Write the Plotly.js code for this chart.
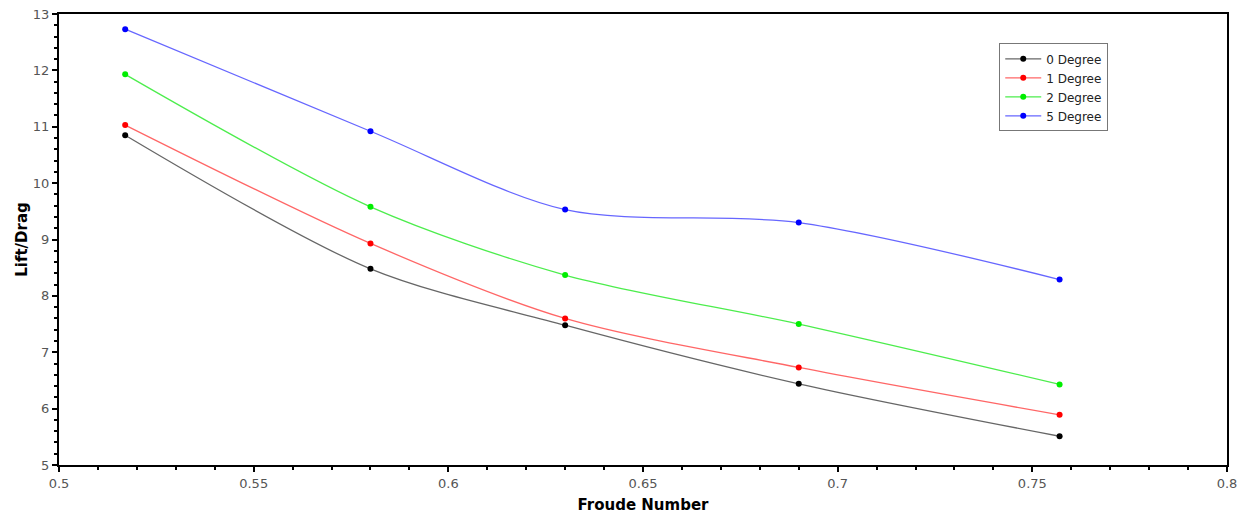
<!DOCTYPE html>
<html><head><meta charset="utf-8">
<script src="https://cdn.plot.ly/plotly-3.0.1.min.js"></script>
<style>body{margin:0;background:#fff}#c{width:1251px;height:517px}</style>
</head><body><div id="c"></div>
<script>
const froude = [0.517, 0.58, 0.63, 0.69, 0.757];
const deg0 = [10.85, 8.48, 7.48, 6.44, 5.51];
const deg1 = [11.03, 8.93, 7.60, 6.73, 5.89];
const deg2 = [11.93, 9.58, 8.37, 7.50, 6.43];
const deg5 = [12.73, 10.92, 9.53, 9.30, 8.29];
const names = ['0 Degree', '1 Degree', '2 Degree', '5 Degree'];
const series = [deg0, deg1, deg2, deg5];
const markerColors = ['#000000', '#ff0000', '#00ee00', '#0000ff'];
const lineColors = ['rgba(0,0,0,0.6)', 'rgba(255,0,0,0.6)', 'rgba(0,230,0,0.7)', 'rgba(0,0,255,0.6)'];

const traces = series.map((ys, i) => ({
  x: froude, y: ys, name: names[i], type: 'scatter', mode: 'lines+markers',
  line: {color: lineColors[i], width: 1.3, shape: 'spline', smoothing: 0.85},
  marker: {color: markerColors[i], size: 6}
}));

const fam = 'DejaVu Sans, Verdana, sans-serif';
const layout = {
  width: 1251, height: 517,
  margin: {l: 58.5, r: 23.5, t: 14, b: 52},
  paper_bgcolor: '#fff', plot_bgcolor: '#fff',
  font: {family: fam, size: 12, color: '#444'},
  showlegend: true,
  legend: {x: 0.805, y: 0.935, xanchor: 'left', yanchor: 'top',
    bordercolor: '#777', borderwidth: 1, bgcolor: '#fff',
    font: {family: fam, size: 12, color: '#222'},
    tracegroupgap: 0, itemwidth: 36},
  xaxis: {
    range: [0.5, 0.8], dtick: 0.05, tick0: 0.5, showgrid: false, zeroline: false,
    ticks: 'outside', ticklen: 5, tickwidth: 2, tickcolor: '#000',
    showline: true, linecolor: '#000', linewidth: 2, mirror: true,
    tickfont: {family: fam, size: 13, color: '#555'},
    minor: {dtick: 0.01, ticks: 'outside', ticklen: 3, tickwidth: 2, tickcolor: '#000', showgrid: false},
    title: {text: 'Froude Number', standoff: 10,
      font: {family: fam, size: 15, color: '#000', weight: 'bold'}}
  },
  yaxis: {
    range: [5, 13], dtick: 1, tick0: 5, showgrid: false, zeroline: false,
    ticks: 'outside', ticklen: 5, tickwidth: 2, tickcolor: '#000',
    showline: true, linecolor: '#000', linewidth: 2, mirror: true,
    tickfont: {family: fam, size: 13, color: '#555'},
    minor: {dtick: 0.2, ticks: 'outside', ticklen: 3, tickwidth: 2, tickcolor: '#000', showgrid: false},
    title: {text: 'Lift/Drag', standoff: 2,
      font: {family: fam, size: 15, color: '#000', weight: 'bold'}}
  }
};
Plotly.newPlot('c', traces, layout, {displayModeBar: false, staticPlot: true});
</script></body></html>
